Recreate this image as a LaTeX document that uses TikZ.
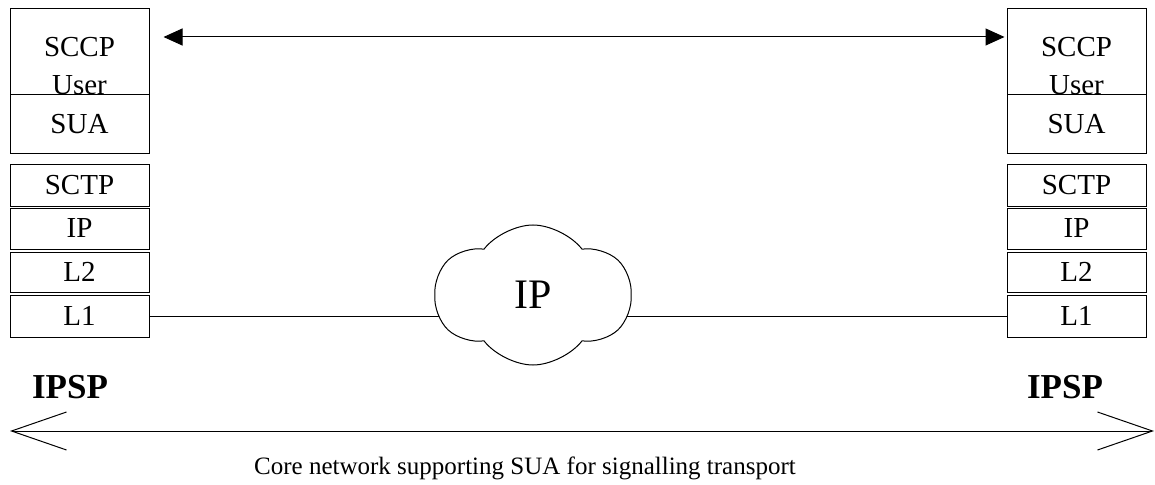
\documentclass[tikz,border=0pt]{standalone}
\usepackage{fontspec}
\setmainfont{Liberation Serif}
\usetikzlibrary{shapes.symbols,arrows.meta}

\tikzset{
    layer/.style={draw, minimum width=139pt, inner sep=0pt, font=\fontsize{29}{38}\selectfont},
    lbl/.style={inner sep=0pt, align=center, font=\fontsize{29}{38}\selectfont},
    side/.style={inner sep=0pt, anchor=base, font=\fontsize{35}{40}\selectfont\bfseries},
    peer/.style={{Triangle[length=19pt,width=17pt]}-{Triangle[length=19pt,width=17pt]}},
    span/.style={{Straight Barb[length=55pt,width=38pt]}-{Straight Barb[length=55pt,width=38pt]}},
}

\begin{document}
\begin{tikzpicture}[x=1pt, y=-1pt, line width=1pt]
        \useasboundingbox (0,0) rectangle (1155,484);
        % left IPSP
        \node[layer, minimum height=86pt] (userL) at (79.5,52) {};
        \node[lbl, anchor=north] (userLt) at (79.5,37) {SCCP\\User};
        \node[layer, minimum height=58pt] (suaL) at (79.5,124) {SUA};
        \node[layer, minimum height=42pt] (sctpL) at (79.5,185) {SCTP};
        \node[layer, minimum height=41pt] (ipL) at (79.5,228.5) {IP};
        \node[layer, minimum height=40pt] (l2L) at (79.5,272) {L2};
        \node[layer, minimum height=42pt] (l1L) at (79.5,316) {L1};
        % right IPSP
        \node[layer, minimum height=86pt] (userR) at (1076.5,52) {};
        \node[lbl, anchor=north] (userRt) at (1076.5,37) {SCCP\\User};
        \node[layer, minimum height=58pt] (suaR) at (1076.5,124) {SUA};
        \node[layer, minimum height=42pt] (sctpR) at (1076.5,185) {SCTP};
        \node[layer, minimum height=41pt] (ipR) at (1076.5,228.5) {IP};
        \node[layer, minimum height=40pt] (l2R) at (1076.5,272) {L2};
        \node[layer, minimum height=42pt] (l1R) at (1076.5,316) {L1};

        \draw (l1L.east) -- (l1R.west);
        \node[cloud, draw, fill=white, cloud puffs=6, cloud puff arc=105, cloud ignores aspect,
              shape border rotate=90, minimum width=196pt, minimum height=140pt, inner sep=0pt,
              font=\fontsize{42}{50}\selectfont] (ipnet) at (533,295) {IP};

        \draw[peer] ([xshift=14pt, yshift=15pt]userL.east) -- ([xshift=-2pt, yshift=15pt]userR.west);

        \node[side] (ipspL) at (70,398) {IPSP};
        \node[side] (ipspR) at (1065,398) {IPSP};

        \coordinate (endL) at (10,431);
        \coordinate (endR) at (1154,431);
        \draw[span] (endL) -- (endR);
        \node[inner sep=0pt, anchor=base, font=\fontsize{25}{30}\selectfont] (core) at (525,474)
            {Core network supporting SUA for signalling transport};
\end{tikzpicture}
\end{document}
